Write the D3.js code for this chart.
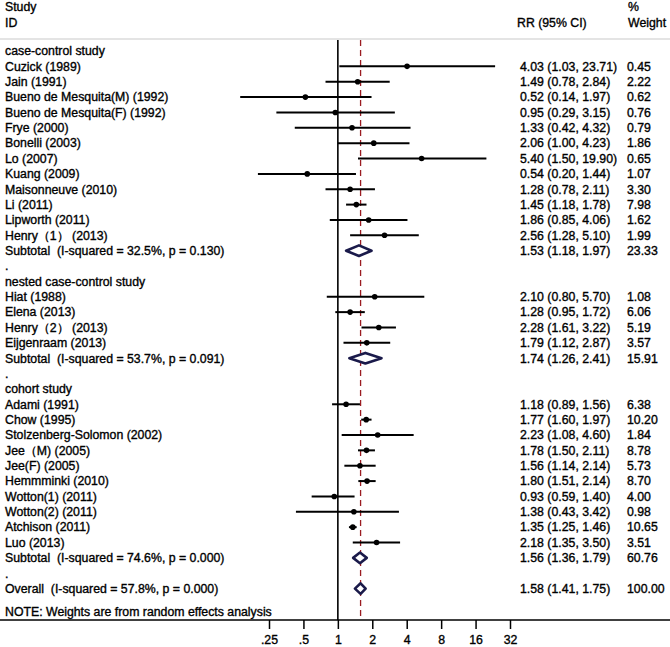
<!DOCTYPE html>
<html><head><meta charset="utf-8">
<script src="https://cdn.jsdelivr.net/npm/d3@7"></script>
<style>
html,body{margin:0;padding:0;background:#fff;}
text{font-family:"Liberation Sans",Arial,sans-serif;font-size:12.3px;fill:#000;stroke:#000;stroke-width:0.35px;white-space:pre;}
</style></head>
<body><svg id="chart" width="670" height="647"></svg>
<script>
// ---- data ----
const rowLabels = [
 "case-control study","Cuzick (1989)","Jain (1991)","Bueno de Mesquita(M) (1992)","Bueno de Mesquita(F) (1992)",
 "Frye (2000)","Bonelli (2003)","Lo (2007)","Kuang (2009)","Maisonneuve (2010)","Li (2011)","Lipworth (2011)",
 "Henry（1） (2013)","Subtotal  (I-squared = 32.5%, p = 0.130)",".",
 "nested case-control study","Hiat (1988)","Elena (2013)","Henry（2） (2013)","Eijgenraam (2013)",
 "Subtotal  (I-squared = 53.7%, p = 0.091)",".",
 "cohort study","Adami (1991)","Chow (1995)","Stolzenberg-Solomon (2002)","Jee（M) (2005)","Jee(F) (2005)",
 "Hemmminki (2010)","Wotton(1) (2011)","Wotton(2) (2011)","Atchison (2011)","Luo (2013)",
 "Subtotal  (I-squared = 74.6%, p = 0.000)",".",
 "Overall  (I-squared = 57.8%, p = 0.000)"
];
const rowTypes = [
 "group","study","study","study","study","study","study","study","study","study","study","study","study","pooled","spacer",
 "group","study","study","study","study","pooled","spacer",
 "group","study","study","study","study","study","study","study","study","study","study","pooled","spacer",
 "pooled"
];
const rrValues = [null,4.03,1.49,0.52,0.95,1.33,2.06,5.40,0.54,1.28,1.45,1.86,2.56,1.53,null,
 null,2.10,1.28,2.28,1.79,1.74,null,
 null,1.18,1.77,2.23,1.78,1.56,1.80,0.93,1.38,1.35,2.18,1.56,null,1.58];
const ciLower = [null,1.03,0.78,0.14,0.29,0.42,1.00,1.50,0.20,0.78,1.18,0.85,1.28,1.18,null,
 null,0.80,0.95,1.61,1.12,1.26,null,
 null,0.89,1.60,1.08,1.50,1.14,1.51,0.59,0.43,1.25,1.35,1.36,null,1.41];
const ciUpper = [null,23.71,2.84,1.97,3.15,4.32,4.23,19.90,1.44,2.11,1.78,4.06,5.10,1.97,null,
 null,5.70,1.72,3.22,2.87,2.41,null,
 null,1.56,1.97,4.60,2.11,2.14,2.14,1.40,3.42,1.46,3.50,1.79,null,1.75];
const weights = ["","0.45","2.22","0.62","0.76","0.79","1.86","0.65","1.07","3.30","7.98","1.62","1.99","23.33","",
 "","1.08","6.06","5.19","3.57","15.91","",
 "","6.38","10.20","1.84","8.78","5.73","8.70","4.00","0.98","10.65","3.51","60.76","","100.00"];
const tickValues = [0.25,0.5,1,2,4,8,16,32];
const tickLabels = [".25",".5","1","2","4","8","16","32"];
const overallRR = 1.58;
const noteText = "NOTE: Weights are from random effects analysis";

// ---- layout ----
const svg = d3.select("#chart");
const W = 670;
const plotTop = 40, axisY = 620;
const x = d3.scaleLog().base(2).domain([0.25, 32]).range([269, 510]);
const y = d3.scaleLinear().domain([0, 1]).range([51, 66.36]);

// header
svg.append("text").attr("x",5).attr("y",11).text("Study");
svg.append("text").attr("x",5).attr("y",27).text("ID");
svg.append("text").attr("x",517).attr("y",27).text("RR (95% CI)");
svg.append("text").attr("x",628).attr("y",11).text("%");
svg.append("text").attr("x",628).attr("y",27).text("Weight");
svg.append("line").attr("x1",0).attr("x2",W).attr("y1",39).attr("y2",39)
  .attr("stroke","#e4e4e4").attr("stroke-width",2);

// reference lines
svg.append("line").attr("x1",x(1)).attr("x2",x(1)).attr("y1",plotTop).attr("y2",axisY)
  .attr("stroke","#000").attr("stroke-width",1.6);
svg.append("line").attr("x1",x(overallRR)).attr("x2",x(overallRR)).attr("y1",plotTop).attr("y2",axisY)
  .attr("stroke","#9b1c22").attr("stroke-width",1.3).attr("stroke-dasharray","6,4");

// rows
const rows = rowLabels.map((l,i)=>({label:l,type:rowTypes[i],rr:rrValues[i],lo:ciLower[i],hi:ciUpper[i],w:weights[i],i}));
const g = svg.append("g");
g.selectAll("text.lab").data(rows).join("text").attr("class","lab")
  .attr("x",5).attr("y",d=>y(d.i)+4.3).text(d=>d.label);

const est = rows.filter(d=>d.rr!==null);
g.selectAll("text.ci").data(est).join("text").attr("class","ci")
  .attr("x",520).attr("y",d=>y(d.i)+4.3)
  .text(d=>`${d.rr.toFixed(2)} (${d.lo.toFixed(2)}, ${d.hi.toFixed(2)})`);
g.selectAll("text.wt").data(est).join("text").attr("class","wt")
  .attr("x",627).attr("y",d=>y(d.i)+4.3).text(d=>d.w);

const studies = est.filter(d=>d.type==="study");
g.selectAll("line.ci").data(studies).join("line").attr("class","ci")
  .attr("x1",d=>x(d.lo)).attr("x2",d=>x(d.hi)).attr("y1",d=>y(d.i)).attr("y2",d=>y(d.i))
  .attr("stroke","#000").attr("stroke-width",2);
g.selectAll("circle.pt").data(studies).join("circle").attr("class","pt")
  .attr("cx",d=>x(d.rr)).attr("cy",d=>y(d.i)).attr("r",2.8).attr("fill","#000");

const pooled = est.filter(d=>d.type==="pooled");
g.selectAll("path.dia").data(pooled).join("path").attr("class","dia")
  .attr("d",d=>{const c=y(d.i),h=5.3;return `M${x(d.lo)},${c}L${x(d.rr)},${c-h}L${x(d.hi)},${c}L${x(d.rr)},${c+h}Z`;})
  .attr("fill","#fff").attr("stroke","#1a1a4a").attr("stroke-width",2.6).attr("stroke-linejoin","round");

// note
svg.append("text").attr("x",5).attr("y",616).text(noteText);

// axis
svg.append("line").attr("x1",0).attr("x2",W).attr("y1",axisY).attr("y2",axisY)
  .attr("stroke","#000").attr("stroke-width",1.5);
const axis = d3.axisBottom(x).tickValues(tickValues).tickFormat((d,i)=>tickLabels[i]).tickSize(9).tickPadding(6);
const ax = svg.append("g").attr("transform",`translate(0,${axisY})`).call(axis);
ax.select(".domain").remove();
ax.selectAll(".tick line").attr("stroke","#000").attr("stroke-width",1.5);
ax.selectAll(".tick text").attr("font-family",null).attr("font-size",null).style("font-size","12.3px");
</script></body></html>
